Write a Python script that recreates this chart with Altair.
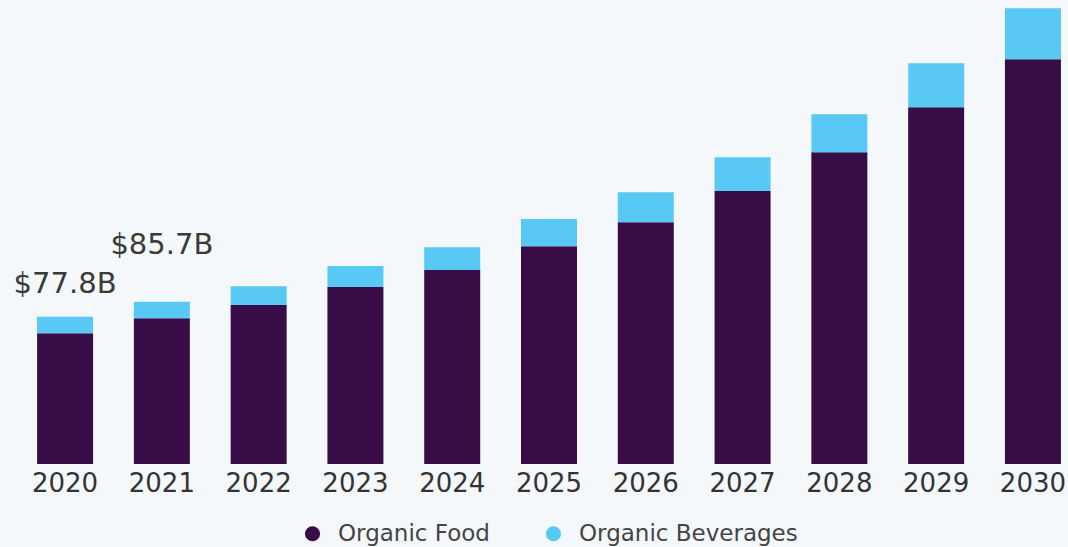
import altair as alt
import pandas as pd

years = ["2020", "2021", "2022", "2023", "2024", "2025", "2026", "2027", "2028", "2029", "2030"]
organic_food = [69.1, 77.0, 83.9, 93.4, 102.4, 115.0, 127.7, 144.1, 164.6, 188.4, 213.7]
organic_beverages = [8.7, 8.7, 10.0, 11.1, 12.1, 14.3, 15.8, 17.9, 20.1, 23.2, 26.9]
series_names = ["Organic Food", "Organic Beverages"]
series_colors = ["#380d47", "#58c8f4"]
annot_years = ["2020", "2021"]
annot_text = ["$77.8B", "$85.7B"]

rows = []
for i, y in enumerate(years):
    rows.append({"year": y, "series": series_names[0], "value": organic_food[i], "ord": 0})
    rows.append({"year": y, "series": series_names[1], "value": organic_beverages[i], "ord": 1})
df = pd.DataFrame(rows)

totals = {y: organic_food[i] + organic_beverages[i] for i, y in enumerate(years)}
ann = pd.DataFrame({"year": annot_years, "label": annot_text,
                    "total": [totals[y] for y in annot_years]})

FONT = "DejaVu Sans"

x_enc = alt.X("year:N", sort=years,
              scale=alt.Scale(paddingInner=0.42, paddingOuter=0),
              axis=alt.Axis(title=None, domain=False, ticks=False, labelAngle=0,
                            labelFontSize=26, labelFont=FONT, labelColor="#333333",
                            labelPadding=6))
y_scale = alt.Scale(domain=[0, 245], nice=False, zero=True)

bars = alt.Chart(df).mark_bar(size=56).encode(
    x=x_enc,
    y=alt.Y("value:Q", stack="zero", scale=y_scale, axis=None),
    color=alt.Color("series:N", scale=alt.Scale(domain=series_names, range=series_colors),
                    legend=alt.Legend(title=None, orient="none", direction="horizontal",
                                      legendX=264, legendY=522,
                                      symbolType="circle", symbolSize=230,
                                      symbolStrokeWidth=0, labelFont=FONT,
                                      labelFontSize=23, labelColor="#444444",
                                      labelLimit=400,
                                      labelOffset=14, columnPadding=52, padding=0)),
    order=alt.Order("ord:Q", sort="ascending"),
)

t1 = alt.Chart(ann[ann["year"] == "2020"]).mark_text(
    font=FONT, fontSize=29, color="#3a3a3a", baseline="alphabetic", align="center", dy=-24
).encode(x=alt.X("year:N", sort=years), y=alt.Y("total:Q", scale=y_scale), text="label:N")

t2 = alt.Chart(ann[ann["year"] == "2021"]).mark_text(
    font=FONT, fontSize=29, color="#3a3a3a", baseline="alphabetic", align="center", dy=-48
).encode(x=alt.X("year:N", sort=years), y=alt.Y("total:Q", scale=y_scale), text="label:N")

chart = alt.layer(bars, t1, t2).properties(
    width=1024, height=464,
    background="#f5f8fb",
    padding={"left": 37, "top": 0, "right": 7, "bottom": 83},
    autosize=alt.AutoSizeParams(type="none"),
).configure_view(stroke=None)

chart.save("out.html", embed_options={"renderer": "svg", "actions": False})
